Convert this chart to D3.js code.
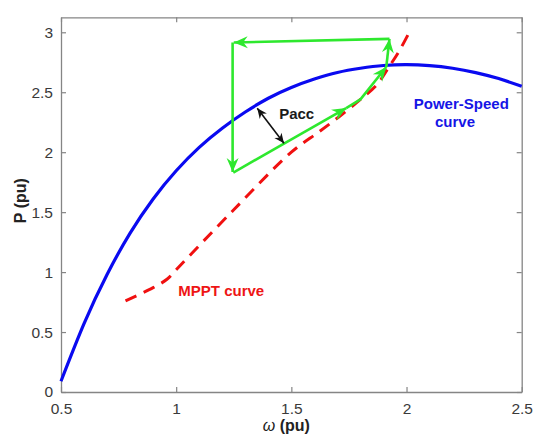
<!DOCTYPE html>
<html>
<head>
<meta charset="utf-8">
<script src="https://cdn.jsdelivr.net/npm/d3@7"></script>
<style>
  html, body { margin: 0; padding: 0; background: #fff; }
  svg { display: block; font-family: "Liberation Sans", Arial, sans-serif; }
</style>
</head>
<body>
<svg id="chart" width="533" height="437"></svg>
<script>
// ---- data ----
const omegaPS = [0.5, 0.6, 0.7, 0.8, 0.9, 1.0, 1.1, 1.2, 1.3, 1.4, 1.5, 1.6, 1.7, 1.8, 1.9, 2.0, 2.1, 2.2, 2.3, 2.4, 2.5];
const powerPS = [0.09, 0.57, 0.98, 1.325, 1.61, 1.845, 2.04, 2.20, 2.335, 2.45, 2.54, 2.61, 2.665, 2.70, 2.723, 2.73, 2.722, 2.70, 2.664, 2.614, 2.55];

const omegaMPPT = [0.78, 0.90, 0.96, 1.00, 1.25, 1.50, 1.62, 1.71, 1.80, 1.87, 1.92, 1.97, 2.02];
const powerMPPT = [0.76, 0.87, 0.94, 1.02, 1.52, 2.00, 2.17, 2.30, 2.44, 2.56, 2.70, 2.85, 3.03];

// green trajectory segments (omega, P), arrow at the end of each
const greenSegments = [
  [[1.248, 1.83], [1.738, 2.368]],
  [[1.738, 2.368], [1.80, 2.44], [1.912, 2.71]],
  [[1.912, 2.71], [1.926, 2.945]],
  [[1.926, 2.945], [1.25, 2.915]],
  [[1.245, 2.915], [1.245, 1.835]]
];
// black double arrow (Pacc)
const paccArrow = [[1.352, 2.366], [1.468, 2.074]];

const xTicks = [0.5, 1, 1.5, 2, 2.5];
const xTickLabels = ["0.5", "1", "1.5", "2", "2.5"];
const yTicks = [0, 0.5, 1, 1.5, 2, 2.5, 3];
const yTickLabels = ["0", "0.5", "1", "1.5", "2", "2.5", "3"];

// ---- layout ----
const L = 61, R = 521.7, T = 17.3, B = 392;
const svg = d3.select("#chart");
const x = d3.scaleLinear().domain([0.5, 2.5]).range([L, R]);
const y = d3.scaleLinear().domain([0, 3.125]).range([B, T]);

const axisColor = "#858585", labelColor = "#3a3a3a";

// markers
const defs = svg.append("defs");
function addMarker(id, color, len, half, back) {
  defs.append("marker")
    .attr("id", id)
    .attr("markerUnits", "userSpaceOnUse")
    .attr("viewBox", `${-len - 1} ${-half - 1} ${len + 2} ${2 * half + 2}`)
    .attr("refX", 0).attr("refY", 0)
    .attr("markerWidth", len + 2).attr("markerHeight", 2 * half + 2)
    .attr("orient", "auto-start-reverse")
    .append("path")
    .attr("d", `M0,0 L${-len},${-half} L${-len + back},0 L${-len},${half} Z`)
    .attr("fill", color);
}
addMarker("gArrow", "#2ee82e", 14, 6, 4.5);
addMarker("kArrow", "#111", 10, 4.5, 3);

// axes box + ticks
const axB = d3.axisBottom(x).tickValues(xTicks).tickFormat((d, i) => xTickLabels[i]).tickSizeInner(-5).tickSizeOuter(0).tickPadding(11);
const axT = d3.axisTop(x).tickValues(xTicks).tickFormat("").tickSizeInner(-5).tickSizeOuter(0);
const axL = d3.axisLeft(y).tickValues(yTicks).tickFormat((d, i) => yTickLabels[i]).tickSizeInner(-5).tickSizeOuter(0).tickPadding(8);
const axR = d3.axisRight(y).tickValues(yTicks).tickFormat("").tickSizeInner(-5).tickSizeOuter(0);

function styleAxis(g) {
  g.selectAll("path.domain").attr("stroke", axisColor).attr("stroke-width", 1.3);
  g.selectAll(".tick line").attr("stroke", axisColor).attr("stroke-width", 1.2);
  g.selectAll(".tick text").attr("fill", labelColor).attr("font-size", 15.5)
    .attr("font-family", "'Liberation Sans', Arial, sans-serif");
}
svg.append("g").attr("transform", `translate(0,${B})`).call(axB).call(styleAxis);
svg.append("g").attr("transform", `translate(0,${T})`).call(axT).call(styleAxis);
svg.append("g").attr("transform", `translate(${L},0)`).call(axL).call(styleAxis);
svg.append("g").attr("transform", `translate(${R},0)`).call(axR).call(styleAxis);

const plot = svg.append("g");

// Power-speed curve
const psData = omegaPS.map((w, i) => [w, powerPS[i]]);
plot.append("path")
  .attr("d", d3.line().x(d => x(d[0])).y(d => y(d[1])).curve(d3.curveNatural)(psData))
  .attr("fill", "none").attr("stroke", "#0a0af0").attr("stroke-width", 3.2);

// MPPT curve
const mpData = omegaMPPT.map((w, i) => [w, powerMPPT[i]]);
plot.append("path")
  .attr("d", d3.line().x(d => x(d[0])).y(d => y(d[1])).curve(d3.curveCatmullRom)(mpData))
  .attr("fill", "none").attr("stroke", "#f01010").attr("stroke-width", 3)
  .attr("stroke-dasharray", "12,8");

// green trajectory
const segLine = d3.line().x(d => x(d[0])).y(d => y(d[1]));
greenSegments.forEach(seg => {
  plot.append("path")
    .attr("d", segLine(seg))
    .attr("fill", "none").attr("stroke", "#2ee82e").attr("stroke-width", 2.6)
    .attr("stroke-linejoin", "round")
    .attr("marker-end", "url(#gArrow)");
});

// black double arrow
plot.append("path")
  .attr("d", segLine(paccArrow))
  .attr("fill", "none").attr("stroke", "#111").attr("stroke-width", 1.6)
  .attr("marker-start", "url(#kArrow)")
  .attr("marker-end", "url(#kArrow)");

// annotations
svg.append("text").attr("x", 296.7).attr("y", 118.5).attr("text-anchor", "middle")
  .attr("font-size", 15).attr("font-weight", "bold").attr("fill", "#1a1a1a").text("Pacc");
svg.append("text").attr("x", 461.3).attr("y", 108.5).attr("text-anchor", "middle")
  .attr("font-size", 15).attr("font-weight", "bold").attr("fill", "#1515e6").text("Power-Speed");
svg.append("text").attr("x", 455).attr("y", 126.5).attr("text-anchor", "middle")
  .attr("font-size", 15).attr("font-weight", "bold").attr("fill", "#1515e6").text("curve");
svg.append("text").attr("x", 178.3).attr("y", 296).attr("text-anchor", "start")
  .attr("font-size", 15).attr("font-weight", "bold").attr("fill", "#ee1515").text("MPPT curve");

// axis titles
const xt = svg.append("text").attr("x", (L + R) / 2 - 5).attr("y", 431).attr("text-anchor", "middle")
  .attr("font-size", 16).attr("fill", "#222");
xt.append("tspan").attr("font-style", "italic").text("ω");
xt.append("tspan").attr("font-weight", "bold").text(" (pu)");

svg.append("text").attr("transform", `translate(26,${(T + B) / 2 - 4}) rotate(-90)`)
  .attr("text-anchor", "middle").attr("font-size", 16).attr("font-weight", "bold")
  .attr("fill", "#222").text("P (pu)");
</script>
</body>
</html>
